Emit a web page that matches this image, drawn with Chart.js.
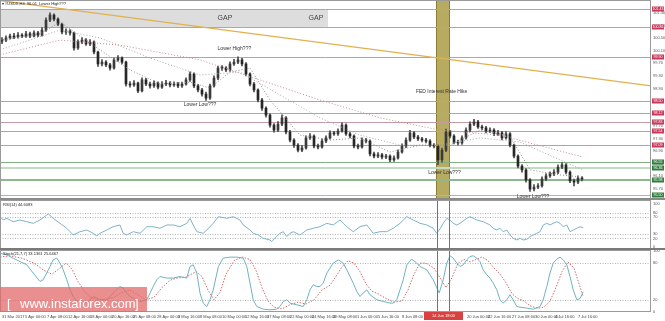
<!DOCTYPE html>
<html><head><meta charset="utf-8">
<script src="https://cdn.jsdelivr.net/npm/chart.js@4.4.1/dist/chart.umd.min.js"></script>
<style>
html,body{margin:0;padding:0;background:#fff;}
#wrap{position:relative;width:665px;height:321px;overflow:hidden;background:#fff;}
canvas{position:absolute;left:0;}
</style></head><body>
<div id="wrap">
<canvas id="cMain" width="665" height="200" style="top:0px"></canvas>
<canvas id="cRsi" width="665" height="50" style="top:200px"></canvas>
<canvas id="cSto" width="665" height="71" style="top:250px"></canvas>
</div>
<script>
// ---------- DATA ----------
const opens = [100.40,100.44,100.51,100.57,100.54,100.60,100.57,100.64,100.57,100.67,
100.60,100.76,101.08,101.24,101.11,100.95,100.70,100.73,100.67,100.19,
100.38,100.44,100.32,100.38,100.06,99.68,99.74,99.65,99.55,99.81,
99.87,99.74,99.04,99.01,99.07,98.82,99.17,99.04,98.98,99.07,
98.94,99.04,99.07,99.01,99.04,98.98,99.04,99.17,99.36,98.98,
98.85,98.72,98.59,98.98,99.23,99.55,99.55,99.49,99.68,99.74,
99.81,99.68,99.36,99.04,98.85,98.53,98.27,98.05,97.73,97.57,
97.76,97.96,97.51,97.25,97.09,96.93,97.00,97.32,97.38,97.06,
97.03,97.22,97.32,97.48,97.45,97.54,97.73,97.45,97.38,97.06,
97.03,97.25,97.22,96.81,96.74,96.78,96.71,96.74,96.62,96.68,
96.87,97.06,97.25,97.48,97.35,97.29,97.25,97.22,97.09,97.06,
96.62,96.93,97.51,97.38,97.19,97.16,97.32,97.57,97.76,97.83,
97.67,97.64,97.54,97.57,97.45,97.48,97.32,97.45,97.09,96.74,
96.42,96.30,95.98,95.69,95.75,95.79,96.01,96.11,96.17,96.23,
96.39,96.46,96.23,95.95,95.91,96.04];
const closes = [100.44,100.51,100.57,100.54,100.60,100.57,100.64,100.57,100.67,100.60,
100.76,101.08,101.24,101.11,100.95,100.70,100.73,100.67,100.19,100.38,
100.44,100.32,100.38,100.06,99.68,99.74,99.65,99.55,99.81,99.87,
99.74,99.04,99.01,99.07,98.82,99.17,99.04,98.98,99.07,98.94,
99.04,99.07,99.01,99.04,98.98,99.04,99.17,99.36,98.98,98.85,
98.72,98.59,98.98,99.23,99.55,99.55,99.49,99.68,99.74,99.81,
99.68,99.36,99.04,98.85,98.53,98.27,98.05,97.73,97.57,97.76,
97.96,97.51,97.25,97.09,96.93,97.00,97.32,97.38,97.06,97.03,
97.22,97.32,97.48,97.45,97.54,97.73,97.45,97.38,97.06,97.03,
97.25,97.22,96.81,96.74,96.78,96.71,96.74,96.62,96.68,96.87,
97.06,97.25,97.48,97.35,97.29,97.25,97.22,97.09,97.06,96.62,
96.93,97.51,97.38,97.19,97.16,97.32,97.57,97.76,97.83,97.67,
97.64,97.54,97.57,97.45,97.48,97.32,97.45,97.09,96.74,96.42,
96.30,95.98,95.69,95.75,95.79,96.01,96.11,96.17,96.23,96.39,
96.46,96.23,95.95,95.91,96.04,96.01];
const highs = [100.52,100.58,100.63,100.66,100.68,100.65,100.72,100.70,100.74,100.72,
100.84,101.15,101.31,101.28,101.15,100.98,100.80,100.78,100.70,100.45,
100.52,100.49,100.46,100.42,100.09,99.82,99.79,99.70,99.87,99.95,
99.91,99.77,99.12,99.15,99.10,99.24,99.22,99.10,99.14,99.11,
99.12,99.16,99.12,99.11,99.09,99.10,99.24,99.43,99.40,99.03,
98.90,98.78,99.04,99.30,99.61,99.63,99.60,99.75,99.83,99.91,
99.86,99.72,99.40,99.09,98.89,98.58,98.31,98.09,97.78,97.84,
98.06,98.00,97.56,97.30,97.14,97.08,97.39,97.46,97.42,97.12,
97.29,97.39,97.55,97.53,97.61,97.80,97.77,97.50,97.42,97.12,
97.32,97.31,97.26,96.87,96.85,96.83,96.80,96.78,96.75,96.94,
97.13,97.32,97.56,97.52,97.40,97.34,97.31,97.27,97.14,97.10,
97.00,97.60,97.56,97.43,97.25,97.39,97.64,97.83,97.91,97.88,
97.73,97.69,97.64,97.62,97.56,97.53,97.52,97.49,97.12,96.78,
96.47,96.34,96.02,95.83,95.86,96.08,96.18,96.24,96.31,96.46,
96.53,96.50,96.27,96.01,96.11,96.09];
const lows = [100.33,100.39,100.47,100.49,100.50,100.52,100.53,100.52,100.54,100.55,
100.57,100.72,101.03,101.05,100.90,100.64,100.62,100.60,100.12,100.14,
100.33,100.27,100.26,100.00,99.60,99.62,99.59,99.48,99.51,99.76,
99.68,98.97,98.94,98.96,98.76,98.79,98.99,98.91,98.93,98.88,
98.90,98.99,98.95,98.96,98.92,98.93,99.00,99.12,98.92,98.79,
98.65,98.52,98.55,98.94,99.18,99.47,99.43,99.44,99.63,99.69,
99.62,99.30,98.98,98.79,98.47,98.20,97.98,97.66,97.50,97.52,
97.71,97.45,97.19,97.02,96.87,96.88,96.96,97.27,97.00,96.97,
96.99,97.17,97.28,97.40,97.40,97.50,97.40,97.32,97.00,96.97,
96.99,97.16,96.75,96.68,96.69,96.65,96.66,96.56,96.57,96.64,
96.83,97.01,97.21,97.30,97.23,97.19,97.16,97.03,97.00,96.47,
96.55,96.88,97.32,97.13,97.10,97.11,97.28,97.52,97.71,97.62,
97.58,97.48,97.49,97.39,97.40,97.26,97.28,97.03,96.68,96.36,
96.23,95.91,95.61,95.63,95.70,95.75,95.96,96.06,96.12,96.18,
96.34,96.17,95.89,95.79,95.86,95.95];

// moving averages [candle index, price]
const maFast = [[-0.5,100.44],[9.5,100.64],[14.5,101.02],[19.5,100.57],[24.5,100.13],[32,99.49],[39.5,99.04],[47,99.10],[52,98.91],[57,99.42],[62,99.55],[67,98.53],[74.5,97.41],[82,97.25],[89.5,97.32],[97,96.87],[104.5,97.09],[112,97.09],[119.5,97.57],[127,97.38],[132,96.30],[139.5,96.14],[145.25,96.07]];
const maMid = [[-0.5,100.13],[14.5,100.76],[24.5,100.51],[37,99.87],[49.5,99.33],[59.5,99.42],[69.5,98.69],[79.5,97.96],[89.5,97.41],[99.5,97.09],[109.5,97.09],[119.5,97.32],[129.5,97.19],[139.5,96.62],[145.25,96.30]];
const maSlow = [[-0.5,99.97],[14.5,100.44],[29.5,100.28],[49.5,99.81],[64.5,99.17],[79.5,98.53],[94.5,97.96],[109.5,97.57],[124.5,97.41],[145.25,96.71]];
const trendLine = [[-0.5,101.70],[162.25,98.98]];

const redLevels = [101.43,100.86,99.90,98.50,98.12,97.83,97.54,97.09];
const greenLevels = [96.55,96.36,95.98,95.50];
const priceTicks = [101.30,100.90,100.50,100.10,99.70,99.30,98.90,98.50,98.10,97.70,97.30,96.90,96.50,96.10,95.70];
const gapZone = {x0:-0.5, x1:81.5, lo:100.86, hi:101.43};
const fedBand = [108.6, 111.9];
const fedLines = [108.75, 111.75];

const notes = [
  ["Lower High???", 58.1, 100.16],
  ["Lower Low???", 49.5, 98.37],
  ["FED Interest Rate Hike", 109.9, 98.79],
  ["Lower Low???", 110.6, 96.20],
  ["Lower Low???", 132.75, 95.44]
];
const gapNotes = [["GAP", 55.75, 101.15], ["GAP", 78.5, 101.15]];

const rsiPts = [[-0.5,70.5],[0.3,62.8],[1.2,66.7],[2.8,58.8],[4.5,62.8],[6.2,58.8],[7.8,55.1],[9.5,62.8],[11.2,74.4],[11.6,76.7],[12.8,66.7],[14.5,55.1],[16.2,43.5],[17.8,27.9],[19.5,35.6],[21.2,39.5],[22.8,31.9],[23.7,25.6],[24.5,31.9],[26.2,39.5],[27.8,47.2],[29.5,51.2],[30.3,31.9],[31.2,27.9],[32.8,35.6],[34.5,31.9],[36.2,47.2],[37.8,47.2],[39.5,43.5],[41.2,51.2],[42.8,51.2],[44.5,47.2],[46.2,55.1],[47,66.7],[47.8,51.2],[48.7,35.6],[50.3,31.9],[51.2,39.5],[52.8,55.1],[54.1,70.5],[56.2,66.7],[57.8,70.5],[59.5,62.8],[60.3,51.2],[62,39.5],[62.8,31.9],[64.1,27.9],[65.3,20.2],[67,16.3],[67.4,12.3],[68.2,20.2],[69.5,31.9],[70.3,35.6],[71.2,24],[72,31.9],[72.8,35.6],[74.5,27.9],[76.2,39.5],[77.8,43.5],[79.5,47.2],[81.2,55.1],[82.8,51.2],[84.5,62.8],[85.3,55.1],[86.2,47.2],[87.8,35.6],[89.5,47.2],[91.2,51.2],[92.8,31.9],[94.5,35.6],[96.2,35.6],[97.8,43.5],[99.5,55.1],[101.2,70.5],[102,66.7],[102.8,62.8],[104.5,55.1],[106.2,51.2],[107.8,43.5],[108.7,31.9],[109.5,42],[110.3,55],[111.2,66.7],[112,62.8],[112.8,55.1],[113.7,51.2],[114.5,55.1],[116.2,66.7],[117,70.5],[117.8,66.7],[118.7,62.8],[120.3,58.8],[122,51.2],[122.8,43.5],[123.7,39.5],[124.5,43.5],[125.3,35.6],[126.2,39.5],[127,27.9],[127.8,20.2],[128.7,16.3],[129.5,20.2],[130.3,16.3],[131.2,17.9],[132,24],[132.8,27.9],[133.7,31.9],[134.5,35.6],[135.3,51.2],[136.2,55.1],[137,51.2],[137.8,55.1],[138.7,58.8],[139.5,55.1],[140.3,47.2],[141.2,51.2],[142,35.6],[142.8,39.5],[143.7,43.5],[144.5,47.2],[145.3,44.6]];
const rsiTicks = [0,20,30,70,80,100];
const rsiLevels = [80,70,30,20];

const stoMain = [[-0.5,96],[1.2,93.6],[2.8,88],[4.5,82.6],[6.2,77.2],[7.8,63.7],[9.5,50],[10.3,52.7],[12,74.5],[12.8,85.4],[13.7,88.2],[14.5,80],[15.3,69],[16.2,52.7],[17,36.3],[17.8,25.4],[18.7,17.2],[19.5,20],[21.2,14.6],[22.8,25.4],[24.5,20],[26.2,20],[27.8,31],[29.5,41.7],[30.3,39.1],[31.2,31],[32,25.4],[32.8,22.7],[34.5,17.2],[36.2,20],[37.8,41.7],[38.7,52.7],[39.5,58.1],[41.2,55.5],[42.8,55.5],[44.5,58.1],[46.2,55.5],[47,74.5],[47.8,77.2],[48.7,63.7],[49.5,31],[50.3,14.6],[51.2,9],[52,20],[52.8,36.3],[54.1,74.5],[55.3,88.2],[57,89.8],[58.7,89.8],[60.3,88.2],[61.2,74.5],[62,47.3],[62.8,20],[63.7,9],[65.3,4.7],[67,3.6],[68.7,4.7],[69.5,9],[70.3,17.2],[71.2,20],[72,14.6],[73.7,11.8],[75.3,9],[76.2,20],[77,36.3],[77.8,44.5],[78.7,41.7],[79.5,41.7],[80.3,47.3],[81.2,63.7],[82.8,80],[84.1,85.4],[85.3,80],[86.2,69],[87.8,47.3],[88.7,33.6],[89.5,25.4],[90.3,31],[91.2,36.3],[92,28.2],[93.7,20],[95.3,17.2],[97,14.6],[97.8,14.6],[98.7,20],[100.3,52.7],[101.2,77.2],[102.4,86.6],[103.7,80],[104.5,74.5],[106.2,69],[107.8,52.7],[109.3,31],[110.3,52.7],[111.2,80],[112,92],[112.8,88.2],[113.7,80],[114.5,74.5],[115.3,77.2],[116.2,85.4],[117,90.9],[117.8,92],[118.7,88.2],[119.5,82.6],[120.3,69],[121.2,60.9],[122,55.5],[122.8,47.3],[123.7,36.3],[124.5,20],[125.3,14.6],[126.2,20],[127,28.2],[127.8,20],[128.7,9],[129.5,8],[131.2,6.3],[132.8,4.7],[134.5,9],[135.3,20],[136.2,41.7],[137,63.7],[137.8,80],[138.7,86.6],[139.5,89.8],[140.3,85.4],[141.2,77.2],[142,58.1],[142.8,36.3],[143.7,20],[144.5,22],[145.3,33.1]];
const stoSignal = [[-0.5,90],[2,92],[5,88],[8,80],[10.5,68],[12.5,62],[14.5,72],[16,80],[17.5,70],[19,50],[20.5,35],[22,24],[24,20],[26,21],[28,24],[30,32],[32,36],[34,28],[36,20],[38,24],[40,40],[42,52],[44,56],[46,57],[48.5,66],[50,58],[51.5,36],[53,20],[54.5,32],[56,62],[58,84],[60,90],[62,86],[63.5,68],[65,40],[66.5,18],[68,8],[70,5],[72,12],[74,16],[76,13],[78,20],[80,36],[82,44],[83.5,58],[85,74],[86.5,84],[88,80],[89.5,66],[91,46],[92.5,34],[94,30],[96,22],[98,16],[100,18],[101.5,36],[103,62],[104.5,80],[106,80],[108,72],[109.5,56],[111,40],[112.5,56],[114,80],[115.5,86],[117,82],[118.5,86],[120,90],[121.5,84],[123,72],[124.5,62],[126,48],[127.5,30],[129,22],[130.5,18],[132,10],[134,6],[135.5,8],[137,18],[138.5,40],[140,66],[141.5,82],[143,72],[144.3,45],[145.3,25.6]];
const stoTicks = [0,20,80,100];
const stoLevels = [80,20];

const xTickIdx = [0,5.75,11.25,16.5,22,27.5,32.75,38.75,44,49.5,55,60.75,66.25,72,77.5,82.75,88.75,94,100,116.25,121.5,127.5,133.25,138.25,144];
const xTickLabels = ["31 Mar 2017","5 Apr 00:00","7 Apr 08:00","12 Apr 16:00","18 Apr 00:00","20 Apr 16:00","25 Apr 08:00","28 Apr 00:00","3 May 16:00","8 May 08:00","10 May 00:00","12 May 16:00","17 May 08:00","22 May 00:00","24 May 16:00","29 May 08:00","1 Jun 00:00","5 Jun 16:00","8 Jun 08:00","20 Jun 00:00","22 Jun 16:00","27 Jun 08:00","30 Jun 00:00","4 Jul 16:00","7 Jul 16:00"];
const dateFlag = {x0:105.5, x1:115.25, text:"14 Jun 18:00"};

const titleText = "\u25BE #USDX,H4  96.01  Lower High???";
const rsiTitle = "RSI(14) 44.6083";
const stoTitle = "Stoch(21,7,7) 33.1361 25.6467";

// ---------- SETUP ----------
const FAM = 'Liberation Sans';
const xMin = -0.5, xMax = 162.25;
const pts = arr => arr.map(p => ({x: p[0], y: p[1]}));

function yAxis(min, max, ticks, fmt) {
  return {
    position: 'right', min, max,
    grid: {display: false, drawTicks: false},
    border: {display: false},
    afterBuildTicks: s => { s.ticks = ticks.map(v => ({value: v})); },
    afterFit: s => { s.width = 14; s.paddingTop = 0; s.paddingBottom = 0; },
    ticks: {autoSkip: false, padding: 2, color: '#555', font: {size: 4, family: FAM}, callback: fmt}
  };
}
const hiddenX = {type: 'linear', min: xMin, max: xMax, offset: false, display: false};
const baseOpts = {
  responsive: false, animation: false, devicePixelRatio: 1, events: [],
  layout: {padding: 0},
  plugins: {legend: {display: false}, tooltip: {enabled: false}}
};

function hline(ctx, x0, x1, y, color, w, dash) {
  ctx.save(); ctx.strokeStyle = color; ctx.lineWidth = w; ctx.setLineDash(dash || []);
  ctx.beginPath(); ctx.moveTo(x0, y); ctx.lineTo(x1, y); ctx.stroke(); ctx.restore();
}
function vline(ctx, x, y0, y1, color, w) {
  ctx.save(); ctx.strokeStyle = color; ctx.lineWidth = w;
  ctx.beginPath(); ctx.moveTo(x, y0); ctx.lineTo(x, y1); ctx.stroke(); ctx.restore();
}
function frame(ctx, a) {
  ctx.save(); ctx.strokeStyle = '#9a9a9a'; ctx.lineWidth = 1;
  ctx.strokeRect(a.left + 0.5, a.top + 0.5, a.width - 1, a.height - 1); ctx.restore();
}
const greenStyle = [['#7fb07f', 1], ['#c2dbc2', 2], ['#8db88d', 2], ['#9cc29c', 1]];

// ---------- MAIN ----------
const mainDeco = {
  id: 'mainDeco',
  beforeDatasetsDraw(chart) {
    const {ctx, chartArea: a, scales: {x, y}} = chart;
    ctx.save();
    ctx.beginPath(); ctx.rect(a.left, a.top, a.width, a.height); ctx.clip();
    const gx0 = x.getPixelForValue(gapZone.x0), gx1 = x.getPixelForValue(gapZone.x1);
    const gyT = y.getPixelForValue(gapZone.hi), gyB = y.getPixelForValue(gapZone.lo);
    ctx.fillStyle = '#dddddd'; ctx.fillRect(gx0, gyT, gx1 - gx0, gyB - gyT);
    const fx0 = Math.round(x.getPixelForValue(fedBand[0])), fx1 = Math.round(x.getPixelForValue(fedBand[1]));
    ctx.fillStyle = '#b7ab62'; ctx.fillRect(fx0, a.top, fx1 - fx0, a.height);
    vline(ctx, fx0 + 0.5, a.top, a.bottom, '#8c7c34', 1);
    vline(ctx, fx1 - 0.5, a.top, a.bottom, '#8c7c34', 1);
    redLevels.forEach(v => {
      const py = Math.round(y.getPixelForValue(v)) + 0.5;
      hline(ctx, a.left, a.right, py, '#c59aa5', 1);
    });
    greenLevels.forEach((v, i) => {
      const [c, w] = greenStyle[i];
      const py = Math.round(y.getPixelForValue(v)) + (w === 1 ? 0.5 : 0);
      hline(ctx, a.left, a.right, py, c, w);
    });
    ctx.restore();
  },
  afterDatasetsDraw(chart) {
    const {ctx, scales: {x, y}} = chart;
    ctx.save();
    ctx.textAlign = 'center'; ctx.textBaseline = 'middle';
    ctx.fillStyle = '#444'; ctx.font = '7px ' + FAM;
    gapNotes.forEach(n => ctx.fillText(n[0], x.getPixelForValue(n[1]), y.getPixelForValue(n[2])));
    ctx.fillStyle = '#333'; ctx.font = '5px ' + FAM;
    notes.forEach(n => ctx.fillText(n[0], x.getPixelForValue(n[1]), y.getPixelForValue(n[2])));
    ctx.textAlign = 'left'; ctx.font = '4px ' + FAM; ctx.fillStyle = '#222';
    ctx.fillText(titleText, 2, 3.5);
    ctx.restore();
  },
  afterDraw(chart) {
    const {ctx, chartArea: a, scales: {y}} = chart;
    frame(ctx, a);
    hline(ctx, 0, 665, 199, '#8a8a8a', 2);
    ctx.save();
    ctx.textAlign = 'center'; ctx.textBaseline = 'middle'; ctx.font = '3.6px ' + FAM;
    const box = (v, col) => {
      const py = y.getPixelForValue(v);
      ctx.fillStyle = col; ctx.fillRect(a.right + 1, Math.round(py) - 2.5, 12, 5);
      ctx.fillStyle = '#fff'; ctx.fillText(v.toFixed(2), a.right + 7, Math.round(py));
    };
    redLevels.forEach(v => box(v, '#c7385a'));
    greenLevels.forEach(v => box(v, '#2f7e3c'));
    ctx.restore();
  }
};

const wicks = lows.map((l, i) => ({x: i, y: [l, highs[i]]}));
const bodies = opens.map((o, i) => ({x: i, y: [o, closes[i]]}));
const bodyColors = opens.map((o, i) => closes[i] >= o ? '#3a3a3a' : '#262626');

new Chart(document.getElementById('cMain'), {
  type: 'bar',
  data: {datasets: [
    {type: 'line', data: pts(trendLine), borderColor: '#e2b14d', borderWidth: 1.3, pointRadius: 0, order: 0},
    {type: 'line', data: pts(maFast), borderColor: '#8c8c8c', borderWidth: 1, borderDash: [1, 2], pointRadius: 0, order: 1},
    {type: 'line', data: pts(maMid), borderColor: '#a8a8a8', borderWidth: 1, borderDash: [1, 2], pointRadius: 0, order: 1},
    {type: 'line', data: pts(maSlow), borderColor: '#c58a8a', borderWidth: 1, borderDash: [1, 2], pointRadius: 0, order: 1},
    {data: bodies, backgroundColor: bodyColors, barThickness: 2, grouped: false, minBarLength: 1, order: 2},
    {data: wicks, backgroundColor: '#4a4a4a', barThickness: 1, grouped: false, order: 3}
  ]},
  options: Object.assign({}, baseOpts, {
    scales: {x: hiddenX, y: yAxis(95.34, 101.72, priceTicks, v => v.toFixed(2))}
  }),
  plugins: [mainDeco]
});

// ---------- RSI ----------
const rsiDeco = {
  id: 'rsiDeco',
  beforeDatasetsDraw(chart) {
    const {ctx, chartArea: a, scales: {y}} = chart;
    rsiLevels.forEach(v => hline(ctx, a.left, a.right, Math.round(y.getPixelForValue(v)) + 0.5, '#b5b5b5', 1, [1, 1.5]));
  },
  afterDatasetsDraw(chart) {
    const {ctx, chartArea: a, scales: {x}} = chart;
    fedLines.forEach(v => vline(ctx, Math.round(x.getPixelForValue(v)) + 0.5, a.top, a.bottom, '#d24a4a', 1));
  },
  afterDraw(chart) {
    const {ctx, chartArea: a} = chart;
    frame(ctx, a);
    hline(ctx, 0, 665, 49, '#7a7a7a', 2);
    ctx.save(); ctx.font = '4px ' + FAM; ctx.fillStyle = '#222'; ctx.textBaseline = 'middle';
    ctx.fillText(rsiTitle, 3, 5); ctx.restore();
  }
};
new Chart(document.getElementById('cRsi'), {
  type: 'line',
  data: {datasets: [
    {data: pts(rsiPts), borderColor: '#7fb2c8', borderWidth: 1, pointRadius: 0, tension: 0}
  ]},
  options: Object.assign({}, baseOpts, {
    scales: {x: hiddenX, y: yAxis(-7, 109.3, rsiTicks, v => String(v))}
  }),
  plugins: [rsiDeco]
});

// ---------- STOCH ----------
const stoDeco = {
  id: 'stoDeco',
  beforeDatasetsDraw(chart) {
    const {ctx, chartArea: a, scales: {y}} = chart;
    stoLevels.forEach(v => hline(ctx, a.left, a.right, Math.round(y.getPixelForValue(v)) + 0.5, '#b5b5b5', 1, [1, 1.5]));
  },
  afterDatasetsDraw(chart) {
    const {ctx, chartArea: a, scales: {x}} = chart;
    fedLines.forEach(v => vline(ctx, Math.round(x.getPixelForValue(v)) + 0.5, a.top, a.bottom + 4, '#d24a4a', 1));
  },
  afterDraw(chart) {
    const {ctx, chartArea: a, scales: {x}} = chart;
    frame(ctx, a);
    ctx.save();
    ctx.font = '4px ' + FAM; ctx.fillStyle = '#222'; ctx.textBaseline = 'middle';
    ctx.fillText(stoTitle, 3, 3.5);
    // watermark
    ctx.fillStyle = 'rgba(226,104,104,0.74)';
    ctx.fillRect(0, 37, 147, 25);
    ctx.fillStyle = '#ffffff'; ctx.font = '13px ' + FAM; ctx.textBaseline = 'alphabetic';
    ctx.fillText('[', 7, 58);
    ctx.fillText('www.instaforex.com', 20, 58);
    ctx.fillText(']', 135, 58);
    // date flag
    const dx0 = x.getPixelForValue(dateFlag.x0), dx1 = x.getPixelForValue(dateFlag.x1);
    ctx.fillStyle = '#d8413f'; ctx.fillRect(dx0, 62, dx1 - dx0, 8);
    ctx.fillStyle = '#fff'; ctx.font = '4px ' + FAM; ctx.textAlign = 'center'; ctx.textBaseline = 'middle';
    ctx.fillText(dateFlag.text, (dx0 + dx1) / 2, 66);
    ctx.restore();
  }
};
new Chart(document.getElementById('cSto'), {
  type: 'line',
  data: {datasets: [
    {data: pts(stoMain), borderColor: '#6fb3bf', borderWidth: 1, pointRadius: 0, tension: 0, order: 0},
    {data: pts(stoSignal), borderColor: '#cf6a6a', borderWidth: 1, borderDash: [1.5, 1.5], pointRadius: 0, tension: 0, order: 1}
  ]},
  options: Object.assign({}, baseOpts, {
    scales: {
      x: {type: 'linear', min: xMin, max: xMax, offset: false, display: true,
        grid: {display: false, drawTicks: false}, border: {display: false},
        afterBuildTicks: s => { s.ticks = xTickIdx.map(v => ({value: v})); },
        afterFit: s => { s.height = 9; s.paddingLeft = 0; s.paddingRight = 0; },
        ticks: {autoSkip: false, maxRotation: 0, minRotation: 0, align: 'start', padding: 2,
          color: '#444', font: {size: 4, family: FAM}, callback: (v, i) => xTickLabels[i]}
      },
      y: yAxis(0, 101.5, stoTicks, v => String(v))
    }
  }),
  plugins: [stoDeco]
});
</script>
</body></html>
